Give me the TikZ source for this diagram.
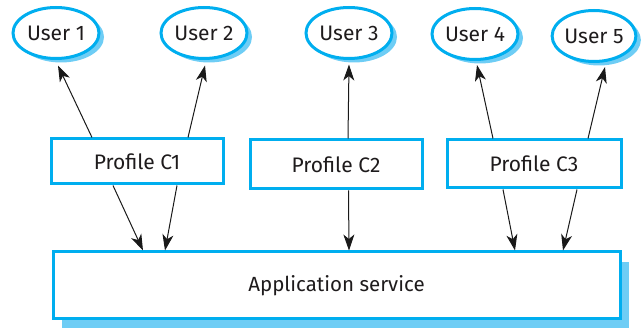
\documentclass[tikz,border=0pt]{standalone}
\usepackage{fontspec}
\setmainfont{Fira Sans}
\usetikzlibrary{arrows.meta,shadows,shapes.geometric}
\definecolor{bordercyan}{RGB}{0,174,239}
\definecolor{shadowblue}{RGB}{110,205,245}
\definecolor{textgray}{RGB}{30,27,28}
\tikzset{
  user/.style={ellipse, draw=bordercyan, line width=3pt, fill=white,
    minimum width=86pt, minimum height=51pt, inner sep=0pt,
    font=\fontsize{21}{24}\selectfont, text=textgray,
    drop shadow={shadow xshift=5pt, shadow yshift=-4pt, fill=shadowblue, opacity=1}},
  profile/.style={rectangle, draw=bordercyan, line width=3pt, fill=white,
    inner sep=0pt, font=\fontsize{21}{24}\selectfont, text=textgray},
  appbox/.style={rectangle, draw=bordercyan, line width=3pt, fill=white,
    inner sep=0pt, font=\fontsize{20.5}{24}\selectfont, text=textgray,
    minimum width=567pt, minimum height=67pt,
    drop shadow={shadow xshift=9pt, shadow yshift=-10pt, fill=shadowblue, opacity=1}},
  arr/.style={-{Stealth[length=16pt,width=11pt,inset=4.5pt]}, line width=1pt, draw=black!90}
}
\begin{document}
\begin{tikzpicture}[x=1pt,y=-1pt]
\useasboundingbox (0,0) rectangle (643,328);
\node[user] (u1) at (56,33) {User 1};
\node[user] (u2) at (204,33) {User 2};
\node[user] (u3) at (349,33) {User 3};
\node[user] (u4) at (475,34) {User 4};
\node[user, minimum width=80pt] (u5) at (594,36) {User 5};
\node[profile, minimum width=172pt, minimum height=45pt] (c1) at (137,161.5) {Profile C1};
\node[profile, minimum width=172pt, minimum height=49pt] (c2) at (336,164.5) {Profile C2};
\node[profile, minimum width=174pt, minimum height=48pt] (c3) at (534,164) {Profile C3};
\node[appbox] (app) at (336.5,285.5) {Application service};
% profile to users
\draw[arr] ([xshift=-45pt]c1.north) -- ([xshift=2pt,yshift=-5.5pt]u1.south);
\draw[arr] ([xshift=51pt]c1.north) -- ([xshift=1pt,yshift=-5.5pt]u2.south);
\draw[arr] ([xshift=12pt]c2.north) -- ([yshift=-4.5pt]u3.south);
\draw[arr] ([xshift=-41pt]c3.north) -- ([xshift=2pt,yshift=-4pt]u4.south);
\draw[arr] ([xshift=54pt]c3.north) -- ([xshift=11pt,yshift=-4pt]u5.south);
% profile to application
\draw[arr] ([xshift=-24pt]c1.south) -- ([xshift=-193.5pt]app.north);
\draw[arr] ([xshift=40pt]c1.south) -- ([xshift=-171.5pt]app.north);
\draw[arr] ([xshift=12.5pt]c2.south) -- ([xshift=12.5pt]app.north);
\draw[arr] ([xshift=-31pt]c3.south) -- ([xshift=178.5pt]app.north);
\draw[arr] ([xshift=43pt]c3.south) -- ([xshift=226.5pt]app.north);
\end{tikzpicture}
\end{document}
